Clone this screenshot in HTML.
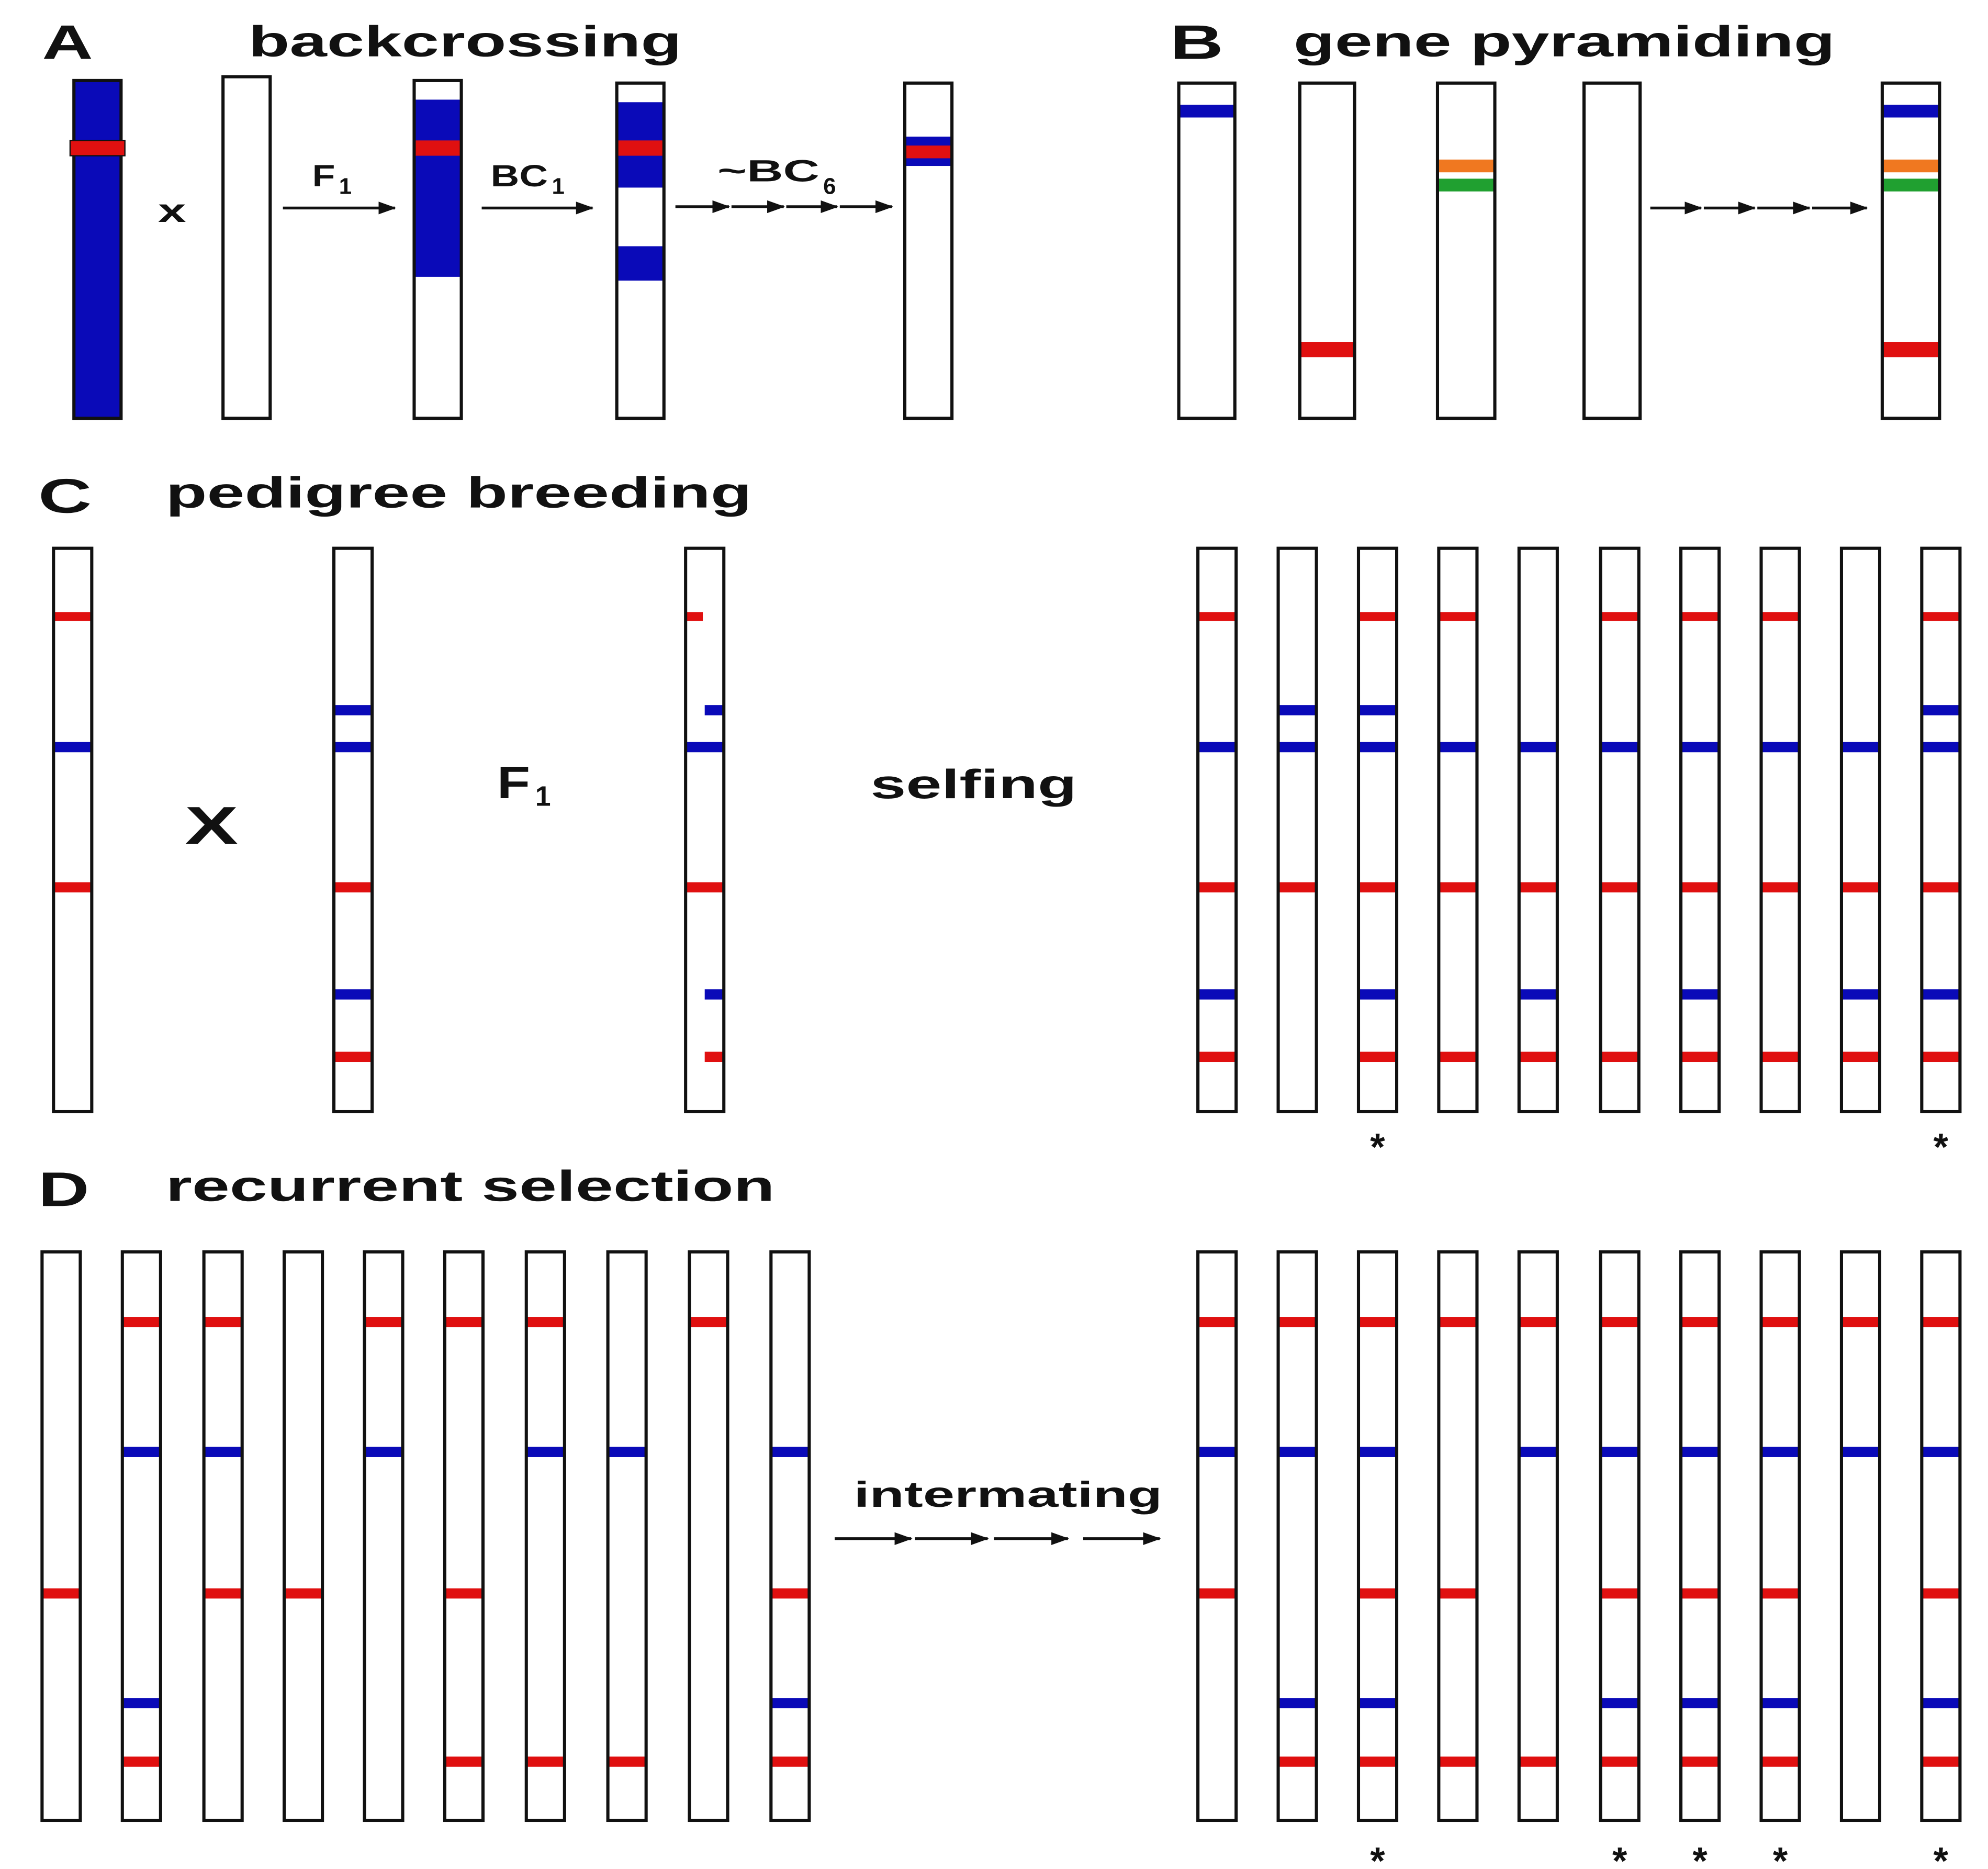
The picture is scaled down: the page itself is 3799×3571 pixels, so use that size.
<!DOCTYPE html>
<html><head><meta charset="utf-8"><style>
html,body{margin:0;padding:0;background:#fff;}
svg{display:block;}
text{font-family:"Liberation Sans",sans-serif;font-weight:bold;fill:#111;}
</style></head><body>
<svg id="s" width="3799" height="3571" viewBox="0 0 1560 1466" xmlns="http://www.w3.org/2000/svg">
<defs><marker id="ah" markerWidth="14" markerHeight="10" refX="13" refY="5" orient="auto" markerUnits="userSpaceOnUse"><path d="M0,0 L14,5 L0,10 z" fill="#111"/></marker></defs>
<text x="33" y="46" font-size="38" textLength="40" lengthAdjust="spacingAndGlyphs">A</text>
<text x="195" y="44" font-size="34" textLength="340" lengthAdjust="spacingAndGlyphs">backcrossing</text>
<text x="918" y="46" font-size="38" textLength="42" lengthAdjust="spacingAndGlyphs">B</text>
<text x="1015" y="44" font-size="34" textLength="425" lengthAdjust="spacingAndGlyphs">gene pyramiding</text>
<text x="30" y="402" font-size="38" textLength="42" lengthAdjust="spacingAndGlyphs">C</text>
<text x="130" y="398" font-size="34" textLength="460" lengthAdjust="spacingAndGlyphs">pedigree breeding</text>
<text x="30" y="946" font-size="38" textLength="40" lengthAdjust="spacingAndGlyphs">D</text>
<text x="130" y="942" font-size="34" textLength="478" lengthAdjust="spacingAndGlyphs">recurrent selection</text>
<text x="124" y="174" font-size="26" textLength="22" lengthAdjust="spacingAndGlyphs">x</text>
<text x="245" y="146" font-size="24" textLength="18" lengthAdjust="spacingAndGlyphs">F</text><text x="266" y="152" font-size="18">1</text>
<text x="385" y="146" font-size="24" textLength="45" lengthAdjust="spacingAndGlyphs">BC</text><text x="433" y="152" font-size="18">1</text>
<text x="563" y="142" font-size="24" textLength="80" lengthAdjust="spacingAndGlyphs">~BC</text><text x="646" y="152" font-size="18">6</text>
<text x="145" y="662" font-size="42" textLength="42" lengthAdjust="spacingAndGlyphs">X</text>
<text x="390" y="626" font-size="36" textLength="26" lengthAdjust="spacingAndGlyphs">F</text><text x="420" y="632" font-size="22">1</text>
<text x="683" y="626" font-size="32" textLength="162" lengthAdjust="spacingAndGlyphs">selfing</text>
<text x="670" y="1182" font-size="28" textLength="242" lengthAdjust="spacingAndGlyphs">intermating</text>
<g id="g"></g>
</svg>
<script>
var g=document.getElementById('g'),NS='http://www.w3.org/2000/svg';
function el(t,a){var e=document.createElementNS(NS,t);for(var k in a)e.setAttribute(k,a[k]);g.appendChild(e);return e;}
function rect(x,y,w,h,f){el('rect',{x:x,y:y,width:w,height:h,fill:f});}
function chrom(x,y1,y2,w,bands,fill){rect(x,y1,w,y2-y1,fill||'#fff');bands.forEach(function(b){rect(b[3]!=null?x+b[3]*w:x,b[0],b[4]!=null?b[4]*w:w,b[1],b[2]);});el('rect',{x:x,y:y1,width:w,height:y2-y1,fill:'none',stroke:'#111','stroke-width':2.5});}
function arrow(x1,x2,y){el('line',{x1:x1,y1:y,x2:x2,y2:y,stroke:'#111','stroke-width':2.2,'marker-end':'url(#ah)'});}
function star(x,y){var t=el('text',{x:x,y:y,'font-size':30,'text-anchor':'middle'});t.textContent='*';}
var B='#0a0ab8',R='#e01010',O='#f07820',G='#20a030';
// Panel A
chrom(58,63,328,37,[[110,12,R]],B);rect(55,110,43,12,R);el('rect',{x:55,y:110,width:43,height:12,fill:'none',stroke:'#111','stroke-width':1});
chrom(175,60,328,37,[]);
arrow(222,310,163);
chrom(325,63,328,37,[[78,139,B],[110,12,R]]);
arrow(378,465,163);
chrom(484,65,328,37,[[80,67,B],[110,12,R],[193,27,B]]);
[[530,572],[574,615],[617,657],[659,700]].forEach(function(a){arrow(a[0],a[1],162);});
chrom(710,65,328,37,[[107,23,B],[114,10,R]]);
// Panel B
chrom(925,65,328,44,[[82,10,B]]);
chrom(1020,65,328,43,[[268,12,R]]);
chrom(1128,65,328,45,[[125,10,O],[140,10,G]]);
chrom(1243,65,328,44,[]);
[[1295,1335],[1337,1377],[1379,1420],[1422,1465]].forEach(function(a){arrow(a[0],a[1],163);});
chrom(1477,65,328,45,[[82,10,B],[125,10,O],[140,10,G],[268,12,R]]);
// Panel C
var cy={r1:[480,7,R],b1:[553,8,B],b2:[582,8,B],r2:[692,8,R],b3:[776,8,B],r3:[825,8,R]};
function C(l){return l.map(function(k){return cy[k];});}
chrom(42,430,872,30,C(['r1','b2','r2']));
chrom(262,430,872,30,C(['b1','b2','r2','b3','r3']));
chrom(538,430,872,30,[[480,7,R,0,0.45],[553,8,B,0.5,0.5],cy.b2,cy.r2,[776,8,B,0.5,0.5],[825,8,R,0.5,0.5]]);
var xs=[940,1003,1066,1129,1192,1256,1319,1382,1445,1508];
var cs=[['r1','b2','r2','b3','r3'],['b1','b2','r2'],['r1','b1','b2','r2','b3','r3'],['r1','b2','r2','r3'],['b2','r2','b3','r3'],['r1','b2','r2','r3'],['r1','b2','r2','b3','r3'],['r1','b2','r2','r3'],['b2','r2','b3','r3'],['r1','b1','b2','r2','b3','r3']];
xs.forEach(function(x,i){chrom(x,430,872,30,C(cs[i]));});
star(1081,910);star(1523,910);
// Panel D
var dy={r1:[1033,8,R],b1:[1135,8,B],r2:[1246,8,R],b2:[1332,8,B],r3:[1378,8,R]};
function D(l){return l.map(function(k){return dy[k];});}
var lx=[33,96,160,223,286,349,413,477,541,605];
var ld=[['r2'],['r1','b1','b2','r3'],['r1','b1','r2'],['r2'],['r1','b1'],['r1','r2','r3'],['r1','b1','r3'],['b1','r3'],['r1'],['b1','r2','b2','r3']];
lx.forEach(function(x,i){chrom(x,982,1428,30,D(ld[i]));});
[[655,715],[718,775],[780,838],[850,910]].forEach(function(a){arrow(a[0],a[1],1207);});
var rd=[['r1','b1','r2'],['r1','b1','b2','r3'],['r1','b1','r2','b2','r3'],['r1','r2','r3'],['r1','b1','r3'],['r1','b1','r2','b2','r3'],['r1','b1','r2','b2','r3'],['r1','b1','r2','b2','r3'],['r1','b1'],['r1','b1','r2','b2','r3']];
xs.forEach(function(x,i){chrom(x,982,1428,30,D(rd[i]));});
[2,5,6,7,9].forEach(function(i){star(xs[i]+15,1470);});
</script>
</body></html>
